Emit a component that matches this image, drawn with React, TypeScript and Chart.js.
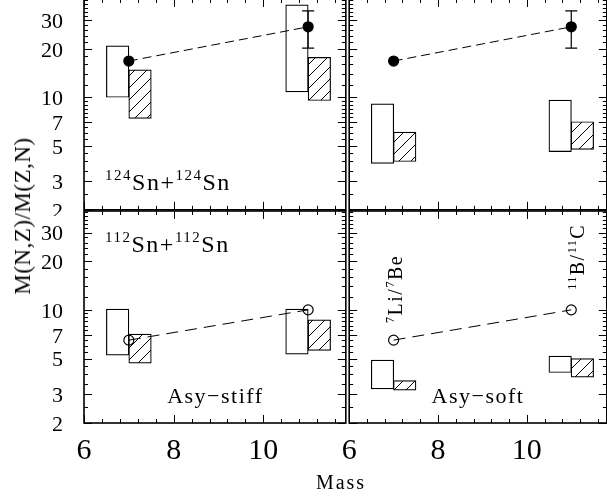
import React, { useEffect, useRef } from "react";
import { Chart, registerables } from "chart.js";

Chart.register(...registerables);

// ---------------- data ----------------
const masses = [7, 11];
const xTickLabels = [6, 8, 10];
const yTickLabels = [2, 3, 5, 7, 10, 20, 30];
const yMinorTicks = [2.5, 3.5, 4, 4.5, 5.5, 6, 6.5, 7.5, 8, 8.5, 9, 9.5, 12, 14, 16, 18, 22, 24, 26, 28, 32, 34, 36, 38, 40];

// model ranges [low, high] at each mass (open boxes / hatched boxes)
const stiff124Open = [[10.0, 20.9], [10.8, 37.5]];
const stiff124Hatched = [[7.4, 14.8], [9.55, 17.7]];
const soft124Open = [[3.88, 9.1], [4.6, 9.6]];
const soft124Hatched = [[3.99, 6.08], [4.75, 7.05]];
const stiff112Open = [[5.25, 10.1], [5.33, 10.1]];
const stiff112Hatched = [[4.69, 7.08], [5.61, 8.67]];
const soft112Open = [[3.25, 4.89], [4.1, 5.18]];
const soft112Hatched = [[3.19, 3.66], [3.84, 5.0]];

// measured ratios
const ratio124 = [16.8, 27.4];
const ratio124ErrLow = [null, 20.2];
const ratio124ErrHigh = [null, 34.4];
const ratio112 = [6.5, 10.0];
const noErr = [null, null];

// ---------------- style ----------------
const FONT = "'Liberation Serif', 'Times New Roman', serif";
const BOX_HALF = 0.25;

type Part = { t: string; sup?: boolean };
type TextItem = { parts: Part[]; x: number; y: number; align?: "left" | "center"; rotate?: boolean; size: number; spacing: number };

function makeHatch(ctx: CanvasRenderingContext2D) {
  const s = 12;
  const c = document.createElement("canvas");
  c.width = s;
  c.height = s;
  const g = c.getContext("2d")!;
  g.fillStyle = "#fff";
  g.fillRect(0, 0, s, s);
  g.strokeStyle = "#000";
  g.lineWidth = 1;
  g.beginPath();
  g.moveTo(0, s);
  g.lineTo(s, 0);
  g.moveTo(-s / 2, s / 2);
  g.lineTo(s / 2, -s / 2);
  g.moveTo(s / 2, s * 1.5);
  g.lineTo(s * 1.5, s / 2);
  g.stroke();
  return ctx.createPattern(c, "repeat")!;
}

function drawRich(ctx: CanvasRenderingContext2D, item: TextItem, px: number, py: number) {
  const size = item.size;
  const supSize = Math.round(size * 0.62);
  ctx.save();
  ctx.translate(px, py);
  if (item.rotate) ctx.rotate(-Math.PI / 2);
  ctx.fillStyle = "#000";
  ctx.textAlign = "left";
  ctx.textBaseline = "alphabetic";
  (ctx as any).letterSpacing = item.spacing + "px";
  const widths = item.parts.map((p) => {
    ctx.font = `${p.sup ? supSize : size}px ${FONT}`;
    return ctx.measureText(p.t).width;
  });
  const total = widths.reduce((a, b) => a + b, 0);
  let cx = item.align === "center" ? -total / 2 : 0;
  item.parts.forEach((p, i) => {
    ctx.font = `${p.sup ? supSize : size}px ${FONT}`;
    ctx.fillText(p.t, cx, p.sup ? -size * 0.4 : 0);
    cx += widths[i];
  });
  ctx.restore();
}

type PanelCfg = {
  id: string;
  left: number;
  top: number;
  w: number;
  h: number;
  padding: { top: number; right: number; bottom: number; left: number };
  showY: boolean;
  showX: boolean;
  xMax: number;
  open: number[][];
  hatched: number[][];
  ratio: number[];
  errLow: (number | null)[];
  errHigh: (number | null)[];
  filled: boolean;
  dash: number[];
  texts: TextItem[];
};

const panels: PanelCfg[] = [
  {
    id: "tl", left: 0, top: -11, w: 352, h: 227,
    padding: { top: 10, right: 5, bottom: 5, left: 0 },
    showY: true, showX: false, xMax: 11.84,
    open: stiff124Open, hatched: stiff124Hatched, ratio: ratio124,
    errLow: ratio124ErrLow, errHigh: ratio124ErrHigh, filled: true, dash: [9, 5],
    texts: [
      { parts: [{ t: "124", sup: true }, { t: "Sn+" }, { t: "124", sup: true }, { t: "Sn" }], x: 6.47, y: 2.66, size: 24, spacing: 1.5 },
    ],
  },
  {
    id: "tr", left: 343, top: -11, w: 270, h: 227,
    padding: { top: 10, right: 5, bottom: 5, left: 5 },
    showY: false, showX: false, xMax: 11.8,
    open: soft124Open, hatched: soft124Hatched, ratio: ratio124,
    errLow: ratio124ErrLow, errHigh: ratio124ErrHigh, filled: true, dash: [9, 5],
    texts: [],
  },
  {
    id: "bl", left: 0, top: 201, w: 352, h: 295,
    padding: { top: 10, right: 5, bottom: 0, left: 0 },
    showY: true, showX: true, xMax: 11.84,
    open: stiff112Open, hatched: stiff112Hatched, ratio: ratio112,
    errLow: noErr, errHigh: noErr, filled: false, dash: [12, 7],
    texts: [
      { parts: [{ t: "112", sup: true }, { t: "Sn+" }, { t: "112", sup: true }, { t: "Sn" }], x: 6.47, y: 22.8, size: 24, spacing: 1.5 },
      { parts: [{ t: "Asy\u2212stiff" }], x: 8.93, y: 2.67, align: "center", size: 22, spacing: 1.5 },
    ],
  },
  {
    id: "br", left: 343, top: 201, w: 270, h: 295,
    padding: { top: 10, right: 5, bottom: 0, left: 5 },
    showY: false, showX: true, xMax: 11.8,
    open: soft112Open, hatched: soft112Hatched, ratio: ratio112,
    errLow: noErr, errHigh: noErr, filled: false, dash: [12, 7],
    texts: [
      { parts: [{ t: "Asy\u2212soft" }], x: 8.9, y: 2.67, align: "center", size: 22, spacing: 1.5 },
      { parts: [{ t: "7", sup: true }, { t: "Li/" }, { t: "7", sup: true }, { t: "Be" }], x: 7.2, y: 8.3, rotate: true, size: 20, spacing: 1.5 },
      { parts: [{ t: "11", sup: true }, { t: "B/" }, { t: "11", sup: true }, { t: "C" }], x: 11.29, y: 13.3, rotate: true, size: 20, spacing: 1.5 },
    ],
  },
];

function Panel({ cfg }: { cfg: PanelCfg }) {
  const ref = useRef<HTMLCanvasElement>(null);
  useEffect(() => {
    const canvas = ref.current!;
    const ctx = canvas.getContext("2d")!;
    const hatch = makeHatch(ctx);

    const barData: any[] = [];
    const barColors: any[] = [];
    masses.forEach((m, i) => {
      barData.push({ x: m - BOX_HALF, y: cfg.open[i] });
      barColors.push("#ffffff");
      barData.push({ x: m + BOX_HALF, y: cfg.hatched[i] });
      barColors.push(hatch);
    });
    const lineData = masses.map((m, i) => ({ x: m, y: cfg.ratio[i] }));

    const deco = {
      id: "deco",
      afterDatasetsDraw(chart: any) {
        const c: CanvasRenderingContext2D = chart.ctx;
        const a = chart.chartArea;
        const xs = chart.scales.x;
        const ys = chart.scales.y;
        c.save();
        c.strokeStyle = "#000";
        // error bars
        c.lineWidth = 1.2;
        c.beginPath();
        masses.forEach((m, i) => {
          const lo = cfg.errLow[i];
          const hi = cfg.errHigh[i];
          if (lo == null || hi == null) return;
          const px = xs.getPixelForValue(m);
          const y1 = ys.getPixelForValue(lo);
          const y2 = ys.getPixelForValue(hi);
          c.moveTo(px, y1);
          c.lineTo(px, y2);
          c.moveTo(px - 6, y1);
          c.lineTo(px + 6, y1);
          c.moveTo(px - 6, y2);
          c.lineTo(px + 6, y2);
        });
        c.stroke();
        // ticks
        c.lineWidth = 1;
        c.beginPath();
        for (let i = 0; 6 + i * 0.4 <= cfg.xMax + 1e-9; i++) {
          const v = 6 + i * 0.4;
          const len = i % 5 === 0 ? 8 : 4;
          const px = Math.round(xs.getPixelForValue(v)) + 0.5;
          c.moveTo(px, a.bottom);
          c.lineTo(px, a.bottom - len);
          c.moveTo(px, a.top);
          c.lineTo(px, a.top + len);
        }
        const yt = [...yTickLabels.map((v) => [v, 8]), ...yMinorTicks.map((v) => [v, 4])];
        yt.forEach(([v, len]) => {
          const py = Math.round(ys.getPixelForValue(v)) + 0.5;
          c.moveTo(a.left, py);
          c.lineTo(a.left + len, py);
          c.moveTo(a.right, py);
          c.lineTo(a.right - len, py);
        });
        c.stroke();
        // frame
        c.lineWidth = 1.6;
        c.strokeRect(a.left, a.top, a.right - a.left, a.bottom - a.top);
        // y tick labels
        if (cfg.showY) {
          c.fillStyle = "#000";
          c.font = `22px ${FONT}`;
          c.textAlign = "right";
          c.textBaseline = "middle";
          yTickLabels.forEach((v) => {
            c.fillText(String(v), a.left - 21, ys.getPixelForValue(v) + 2);
          });
        }
        // texts
        cfg.texts.forEach((t) => {
          drawRich(c, t, xs.getPixelForValue(t.x), ys.getPixelForValue(t.y));
        });
        c.restore();
      },
    };

    const chart = new Chart(canvas, {
      type: "bar",
      data: {
        datasets: [
          {
            type: "line",
            data: lineData,
            order: 0,
            borderColor: "#000",
            borderWidth: 1,
            borderDash: cfg.dash,
            pointRadius: 5,
            pointBorderWidth: 1.2,
            pointBorderColor: "#000",
            pointBackgroundColor: cfg.filled ? "#000" : "rgba(0,0,0,0)",
            fill: false,
          } as any,
          {
            type: "bar",
            data: barData,
            order: 1,
            backgroundColor: barColors,
            borderColor: "#000",
            borderWidth: 1.2,
            borderSkipped: false,
            barThickness: 22.5,
          } as any,
        ],
      },
      options: {
        animation: false,
        responsive: false,
        maintainAspectRatio: false,
        events: [],
        layout: { padding: cfg.padding },
        plugins: { legend: { display: false }, tooltip: { enabled: false } },
        scales: {
          x: {
            type: "linear",
            min: 6,
            max: cfg.xMax,
            offset: false,
            display: cfg.showX,
            grid: { display: false, drawTicks: false },
            border: { display: false },
            ticks: {
              autoSkip: false,
              maxRotation: 0,
              padding: 10,
              color: "#000",
              font: { family: FONT, size: 30 },
              callback: (v: any) => String(v),
            },
            afterBuildTicks: (s: any) => {
              s.ticks = xTickLabels.map((v) => ({ value: v }));
            },
            afterFit: (s: any) => {
              if (cfg.showX) s.height = 73;
              s.paddingLeft = 0;
              s.paddingRight = 0;
            },
          },
          y: {
            type: "logarithmic",
            min: 2,
            max: 40.8,
            stacked: false,
            beginAtZero: false,
            display: cfg.showY,
            grid: { display: false, drawTicks: false },
            border: { display: false },
            ticks: { display: false },
            afterBuildTicks: (s: any) => {
              s.ticks = yTickLabels.map((v) => ({ value: v }));
            },
            afterFit: (s: any) => {
              if (cfg.showY) s.width = 84;
              s.paddingTop = 0;
              s.paddingBottom = 0;
            },
          },
        },
      } as any,
      plugins: [deco],
    });
    return () => chart.destroy();
  }, []);
  return (
    <canvas
      ref={ref}
      width={cfg.w}
      height={cfg.h}
      style={{ position: "absolute", left: cfg.left, top: cfg.top, width: cfg.w, height: cfg.h }}
    />
  );
}

export default function App() {
  return (
    <div style={{ position: "fixed", left: 0, top: 0, width: 607, height: 496, overflow: "hidden", background: "#fff" }}>
      {panels.map((p) => (
        <Panel key={p.id} cfg={p} />
      ))}
      <div
        style={{
          position: "absolute", left: 341, top: 482, transform: "translate(-50%,-50%)",
          font: `20px ${FONT}`, whiteSpace: "nowrap", color: "#000", letterSpacing: "2px",
        }}
      >
        Mass
      </div>
      <div
        style={{
          position: "absolute", left: 23, top: 216, transform: "translate(-50%,-50%) rotate(-90deg)",
          font: `23px ${FONT}`, whiteSpace: "nowrap", color: "#000", letterSpacing: "0.5px",
        }}
      >
        M(N,Z)/M(Z,N)
      </div>
    </div>
  );
}
